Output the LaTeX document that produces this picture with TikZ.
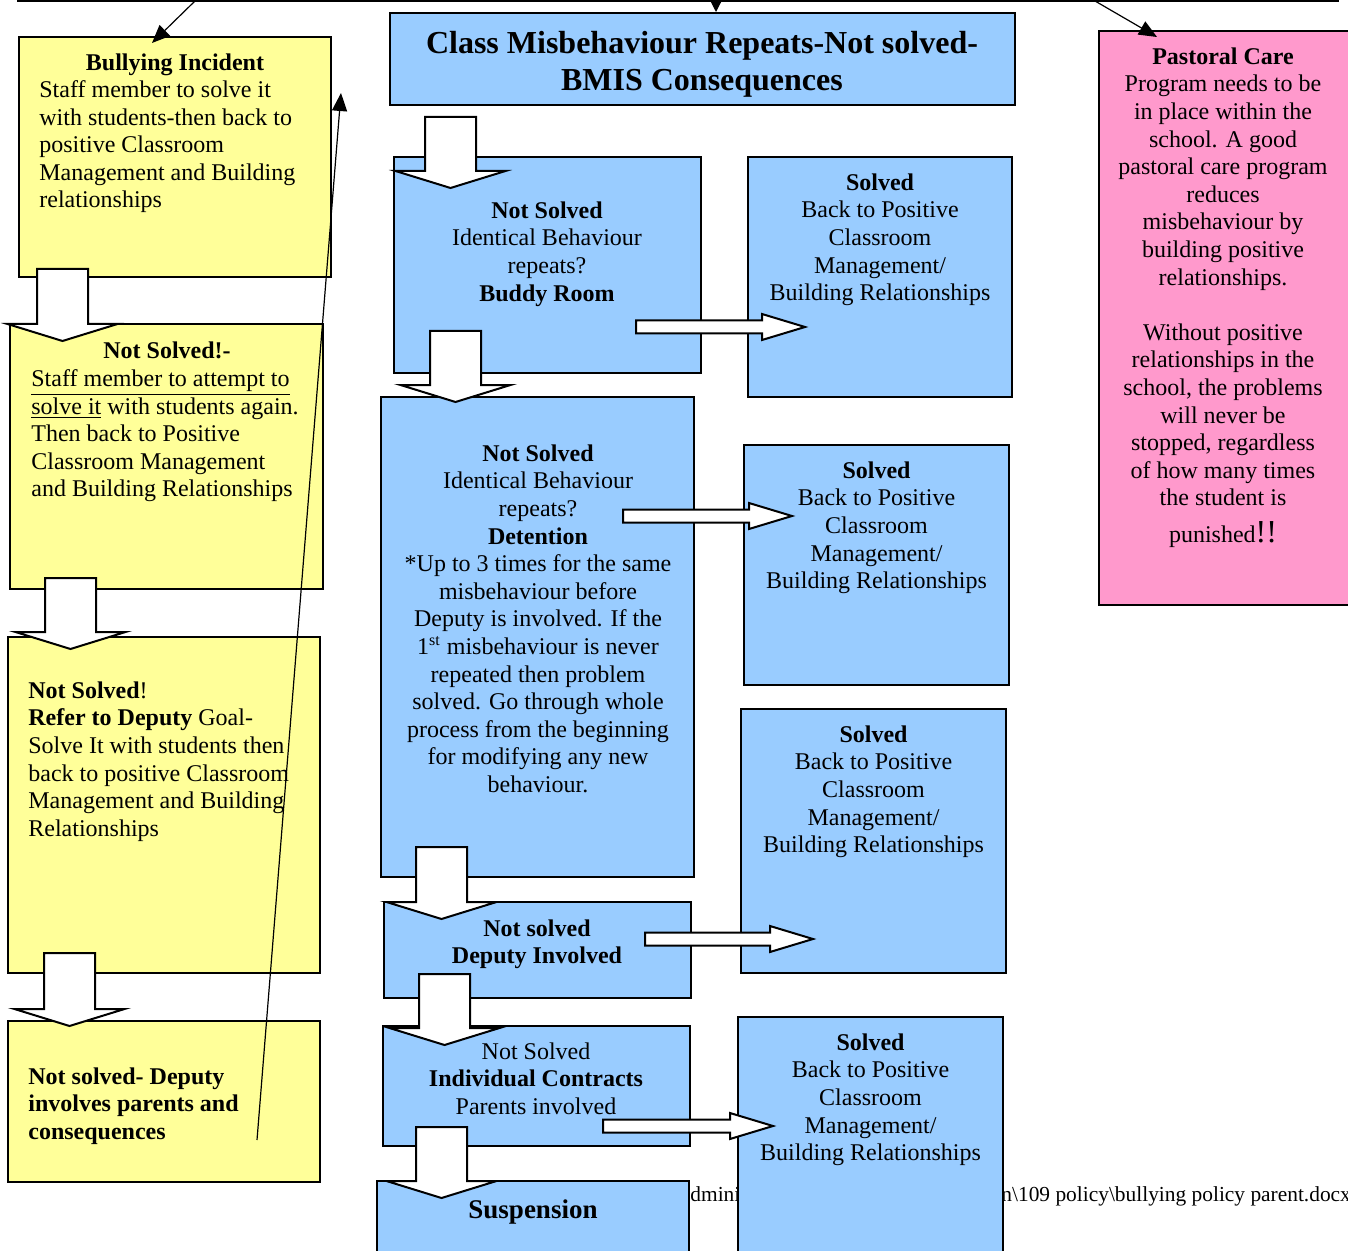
\documentclass[tikz,border=0pt]{standalone}
\usepackage{fontspec}
\setmainfont{Liberation Serif}
\usetikzlibrary{arrows.meta,fit}
\definecolor{bullyyellow}{HTML}{FFFF99}
\definecolor{bmisblue}{HTML}{99CCFF}
\definecolor{pastoralpink}{HTML}{FF99CC}

\begin{document}
\begin{tikzpicture}[x=0.5pt, y=-0.5pt,
    box/.style={draw, line width=1pt, inner sep=0pt},
    ybox/.style={box, fill=bullyyellow},
    bbox/.style={box, fill=bmisblue},
    pbox/.style={box, fill=pastoralpink},
    txt/.style={inner sep=0pt, yshift=-0.6pt, font=\fontsize{12}{13.8}\selectfont, align=center, anchor=north},
    ltxt/.style={txt, align=left, anchor=north west},
    blockarrow/.style={draw, fill=white, line width=1pt, line join=miter},
    thin/.style={line width=0.6pt, -{Triangle[length=9pt, width=7.5pt]}}]
    \useasboundingbox (0,0) rectangle (1348,1251);

    % Box above (cut off at the top)
    \draw[line width=1pt] (18,-20) -- (18,1) -- (1338,1) -- (1338,-20);
    \coordinate (srcbully) at (195,1);
    \coordinate (srcclass) at (716,1);
    \coordinate (srcpastoral) at (1095,1);

    % File path in the footer
    \node[inner sep=0pt, anchor=base west, font=\fontsize{10.7}{12}\selectfont] (pathA) at (690,1201) {dmini};
    \node[inner sep=0pt, anchor=base west, font=\fontsize{10.7}{12}\selectfont] (pathB) at (1001,1201) {n\textbackslash 109 policy\textbackslash bullying policy parent.docx};

    % Bullying column
    \node[ybox, fit={(19,37) (331,277)}] (bully) {};
    \node[ybox, fit={(10,324) (323,589)}] (bully2) {};
    \node[ybox, fit={(8,637) (320,973)}] (bully3) {};
    \node[ybox, fit={(8,1021) (320,1182)}] (bully4) {};
    \node[txt, font=\fontsize{12}{13.8}\selectfont\bfseries] (bullyhead) at (175,52) {Bullying Incident};
    \node[ltxt] (bullybody) at (39,79) {Staff member to solve it\\with students-then back to\\positive Classroom\\Management and Building\\relationships};
    \node[txt, font=\fontsize{12}{13.8}\selectfont\bfseries] (bully2head) at (167,340) {Not Solved!-};
    \node[ltxt] (bully2body) at (31,368) {\underline{Staff member to attempt to}\\\underline{solve it} with students again.\\Then back to Positive\\Classroom Management\\and Building Relationships};
    \node[ltxt] (bully3body) at (28,680) {\textbf{Not Solved}!\\\textbf{Refer to Deputy} Goal-\\Solve It with students then\\back to positive Classroom\\Management and Building\\Relationships};
    \node[ltxt, font=\fontsize{12}{13.8}\selectfont\bfseries] (bully4body) at (28,1066) {Not solved- Deputy\\involves parents and\\consequences};

    % Class misbehaviour column
    \node[bbox, fit={(390,13) (1015,105)}] (classbox) {};
    \node[txt, font=\fontsize{16}{18.5}\selectfont\bfseries] (classhead) at (702,30) {Class Misbehaviour Repeats-Not solved-\\BMIS Consequences};
    \node[bbox, fit={(394,157) (701,373)}] (buddy) {};
    \node[txt] (buddytext) at (547,200) {\textbf{Not Solved}\\Identical Behaviour\\repeats?\\\textbf{Buddy Room}};
    \node[bbox, fit={(381,397) (694,877)}] (detention) {};
    \node[txt] (detentiontext) at (538,443) {\textbf{Not Solved}\\Identical Behaviour\\repeats?\\\textbf{Detention}\\*Up to 3 times for the same\\misbehaviour before\\Deputy is involved. If the\\1\textsuperscript{st} misbehaviour is never\\repeated then problem\\solved. Go through whole\\process from the beginning\\for modifying any new\\behaviour.};
    \node[bbox, fit={(384,902) (691,998)}] (deputy) {};
    \node[txt, font=\fontsize{12}{13.8}\selectfont\bfseries] (deputytext) at (537,918) {Not solved\\Deputy Involved};
    \node[bbox, fit={(383,1026) (690,1146)}] (contract) {};
    \node[txt] (contracttext) at (536,1041) {Not Solved\\\textbf{Individual Contracts}\\Parents involved};
    \node[bbox, fit={(377,1181) (689,1270)}] (suspension) {};
    \node[txt, font=\fontsize{13.5}{15}\selectfont\bfseries] (suspensiontext) at (533,1198) {Suspension};

    % Solved column
    \foreach \name/\xa/\ya/\xb/\yb in {solvedA/748/157/1012/397, solvedB/744/445/1009/685, solvedC/741/709/1006/973, solvedD/738/1017/1003/1270} {
        \node[bbox, fit={(\xa,\ya) (\xb,\yb)}] (\name) {};
        \node[txt] (\name text) at ({(\xa+\xb)/2},{\ya+15}) {\textbf{Solved}\\Back to Positive\\Classroom\\Management/\\Building Relationships};
    }

    % Pastoral care
    \node[pbox, fit={(1099,31) (1360,605)}] (pastoral) {};
    \node[txt] (pastoraltext) at (1223,46) {\textbf{Pastoral Care}\\Program needs to be\\in place within the\\school. A good\\pastoral care program\\reduces\\misbehaviour by\\building positive\\relationships.\\[13.8pt]Without positive\\relationships in the\\school, the problems\\will never be\\stopped, regardless\\of how many times\\the student is\\[4.5pt]punished{\fontsize{16}{16}\selectfont!!}};

    % Block arrows down
    \foreach \xl/\yt/\yp in {37/269/341, 45/578/649, 44/953/1026, 425/117/188, 430/331/402, 416/847/919, 419/974/1045, 416/1127/1198}
        \draw[blockarrow] (\xl,\yt) -- (\xl+51,\yt) -- (\xl+51,\yp-17) -- (\xl+80.5,\yp-17) -- (\xl+25.5,\yp) -- (\xl-29.5,\yp-17) -- (\xl,\yp-17) -- cycle;

    % Block arrows right
    \foreach \xs/\ym/\xp in {636/327/805, 623/516/792, 645/939/813, 603/1126/773}
        \draw[blockarrow] (\xs,\ym-6.5) -- (\xp-43,\ym-6.5) -- (\xp-43,\ym-13) -- (\xp,\ym) -- (\xp-43,\ym+13) -- (\xp-43,\ym+6.5) -- (\xs,\ym+6.5) -- cycle;

    % Thin arrows
    \coordinate (bullyin) at (152,43);
    \coordinate (classin) at (716,12);
    \coordinate (pastoralin) at (1157,37);
    \coordinate (feedtail) at (257,1140);
    \coordinate (feedhead) at (341,93);
    \draw[thin] (srcbully) -- (bullyin);
    \draw[line width=0.6pt, -{Triangle[length=5.5pt, width=5.5pt]}] (srcclass) -- (classin);
    \draw[thin] (srcpastoral) -- (pastoralin);
    \draw[thin] (feedtail) -- (feedhead);
\end{tikzpicture}
\end{document}
